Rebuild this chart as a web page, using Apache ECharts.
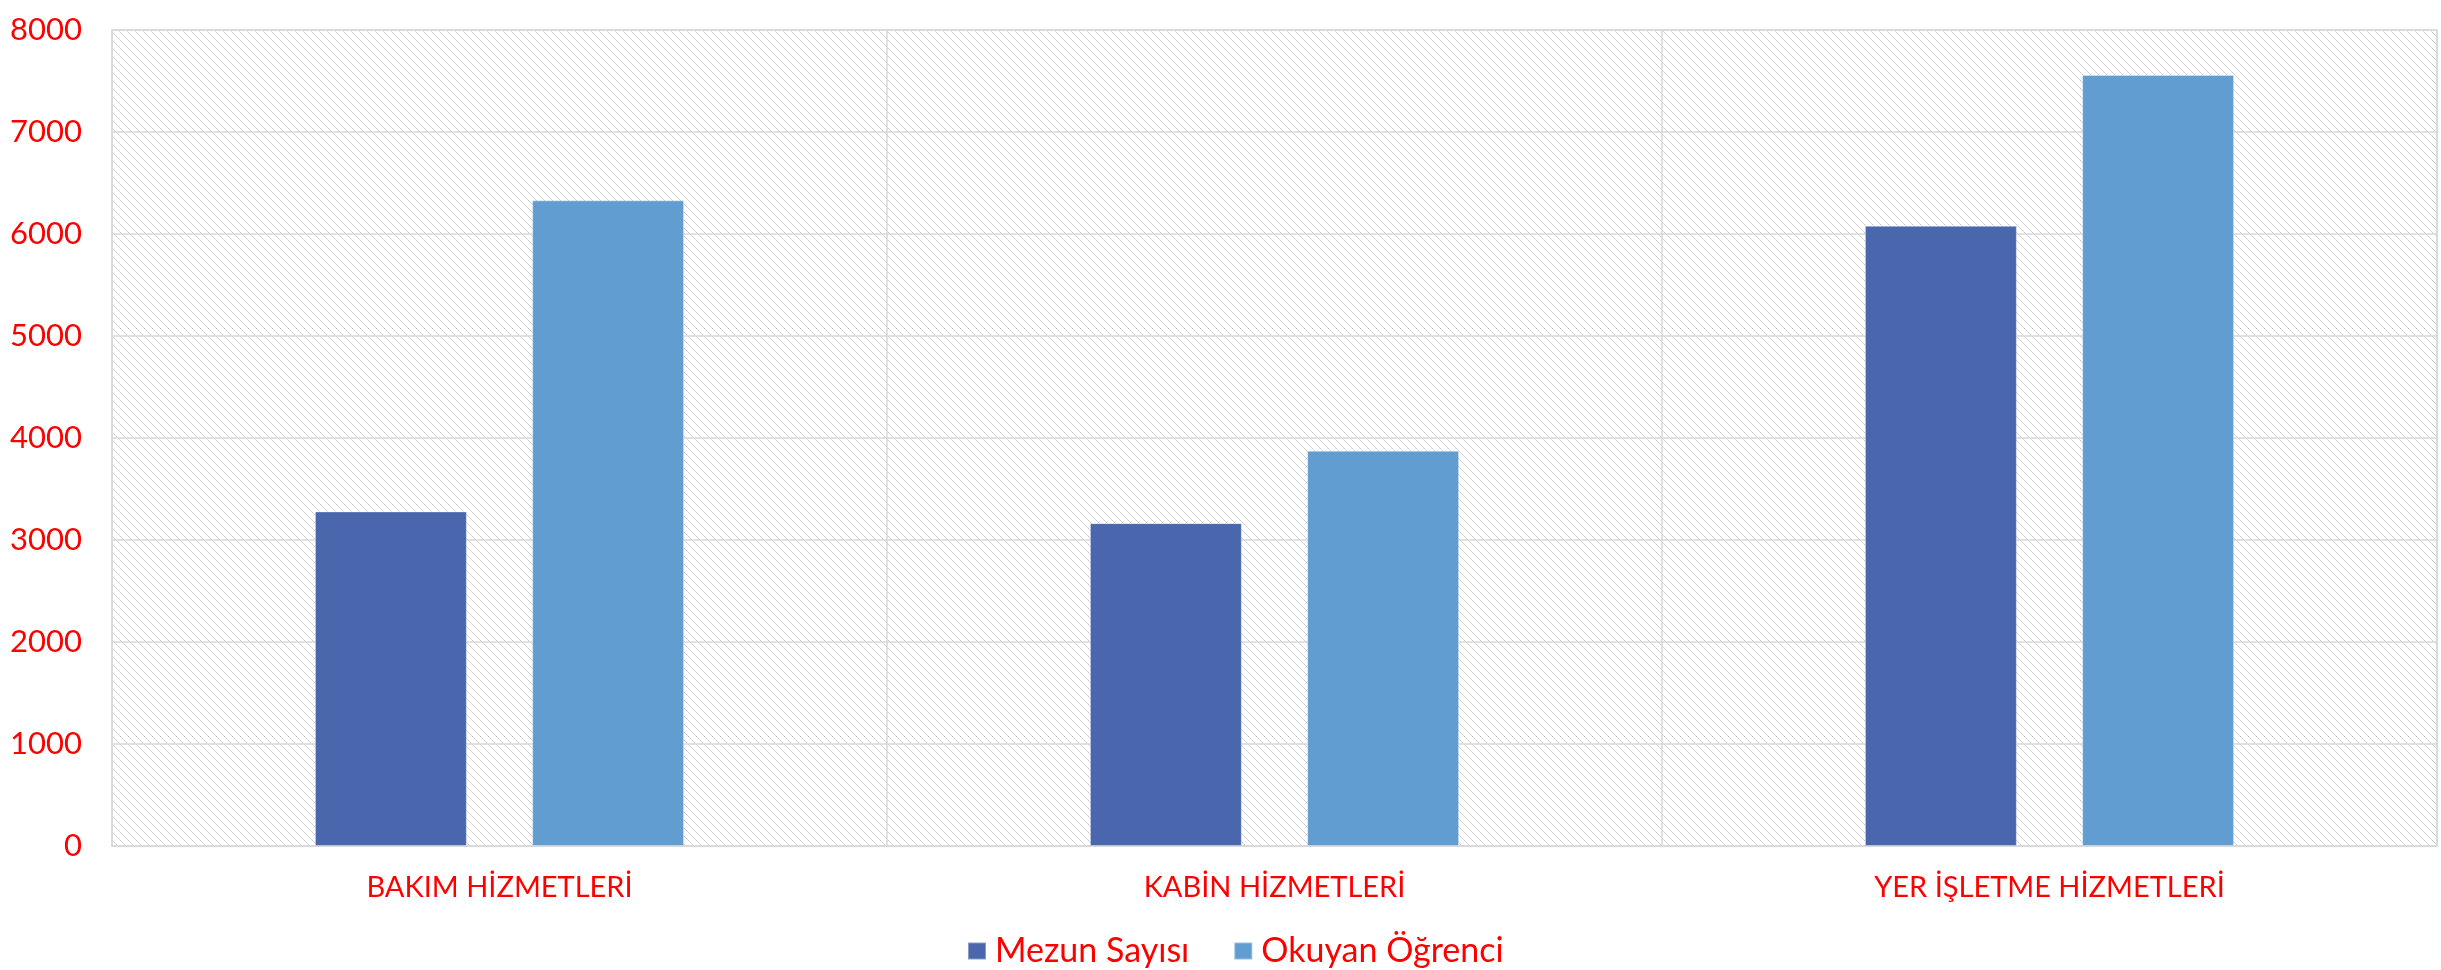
<!DOCTYPE html>
<html>
<head>
<meta charset="utf-8">
<script src="https://cdn.jsdelivr.net/npm/echarts@6/dist/echarts.min.js"></script>
<style>
  html, body { margin: 0; padding: 0; background: #fff; }
  #chart { width: 2441px; height: 970px; }
</style>
</head>
<body>
<div id="chart"></div>
<script>
  const categories = ['BAKIM HİZMETLERİ', 'KABİN HİZMETLERİ', 'YER İŞLETME HİZMETLERİ']
  const mezunSayisi = [3280, 3165, 6080]
  const okuyanOgrenci = [6330, 3875, 7560]
  const seriesNames = ['Mezun Sayısı', 'Okuyan Öğrenci']

  // diagonal hatch for the plot background
  function makeHatch() {
    const c = document.createElement('canvas')
    c.width = 8
    c.height = 8
    const ctx = c.getContext('2d')
    ctx.fillStyle = '#ffffff'
    ctx.fillRect(0, 0, 8, 8)
    for (let i = 0; i < 8; i++) {
      ctx.fillStyle = i % 2 === 0 ? '#c6c6c6' : '#dadada'
      ctx.fillRect(i, i, 1, 1)
    }
    return c
  }

  const font = 'Lato, "DejaVu Sans", sans-serif'
  const chart = echarts.init(document.getElementById('chart'))

  const option = {
    animation: false,
    grid: {
      left: 112,
      right: 4,
      top: 30,
      bottom: 124,
      show: true,
      backgroundColor: { image: makeHatch(), repeat: 'repeat' },
      borderColor: '#d9d9d9',
      borderWidth: 1.5,
      outerBoundsMode: 'none'
    },
    legend: {
      data: seriesNames,
      left: 962,
      top: 929,
      icon: 'rect',
      itemWidth: 18,
      itemHeight: 17,
      itemGap: 44,
      textStyle: {
        color: '#ff0000',
        fontFamily: font,
        fontSize: 34,
        padding: [0, 0, 0, 4]
      }
    },
    xAxis: {
      type: 'category',
      data: categories,
      axisLine: { lineStyle: { color: '#d9d9d9', width: 1.5 } },
      axisTick: { show: false },
      splitLine: { show: true, interval: 0, lineStyle: { color: '#d9d9d9', width: 1.5 } },
      axisLabel: {
        color: '#ff0000',
        fontFamily: font,
        fontSize: 29,
        margin: 27
      }
    },
    yAxis: {
      type: 'value',
      min: 0,
      max: 8000,
      interval: 1000,
      axisLine: { show: false },
      axisTick: { show: false },
      splitLine: { lineStyle: { color: '#d9d9d9', width: 1.5 } },
      axisLabel: {
        color: '#ff0000',
        fontFamily: font,
        fontSize: 31,
        margin: 30,
        formatter: v => String(v)
      }
    },
    series: [
      {
        name: seriesNames[0],
        type: 'bar',
        data: mezunSayisi,
        barWidth: '19.6%',
        barGap: '43%',
        itemStyle: { color: '#4a66ac', borderColor: 'rgba(255,255,255,0.35)', borderWidth: 1 }
      },
      {
        name: seriesNames[1],
        type: 'bar',
        data: okuyanOgrenci,
        barWidth: '19.6%',
        itemStyle: { color: '#629dd1', borderColor: 'rgba(255,255,255,0.35)', borderWidth: 1 }
      }
    ]
  }

  chart.setOption(option)
  window.addEventListener('resize', chart.resize)
</script>
</body>
</html>
